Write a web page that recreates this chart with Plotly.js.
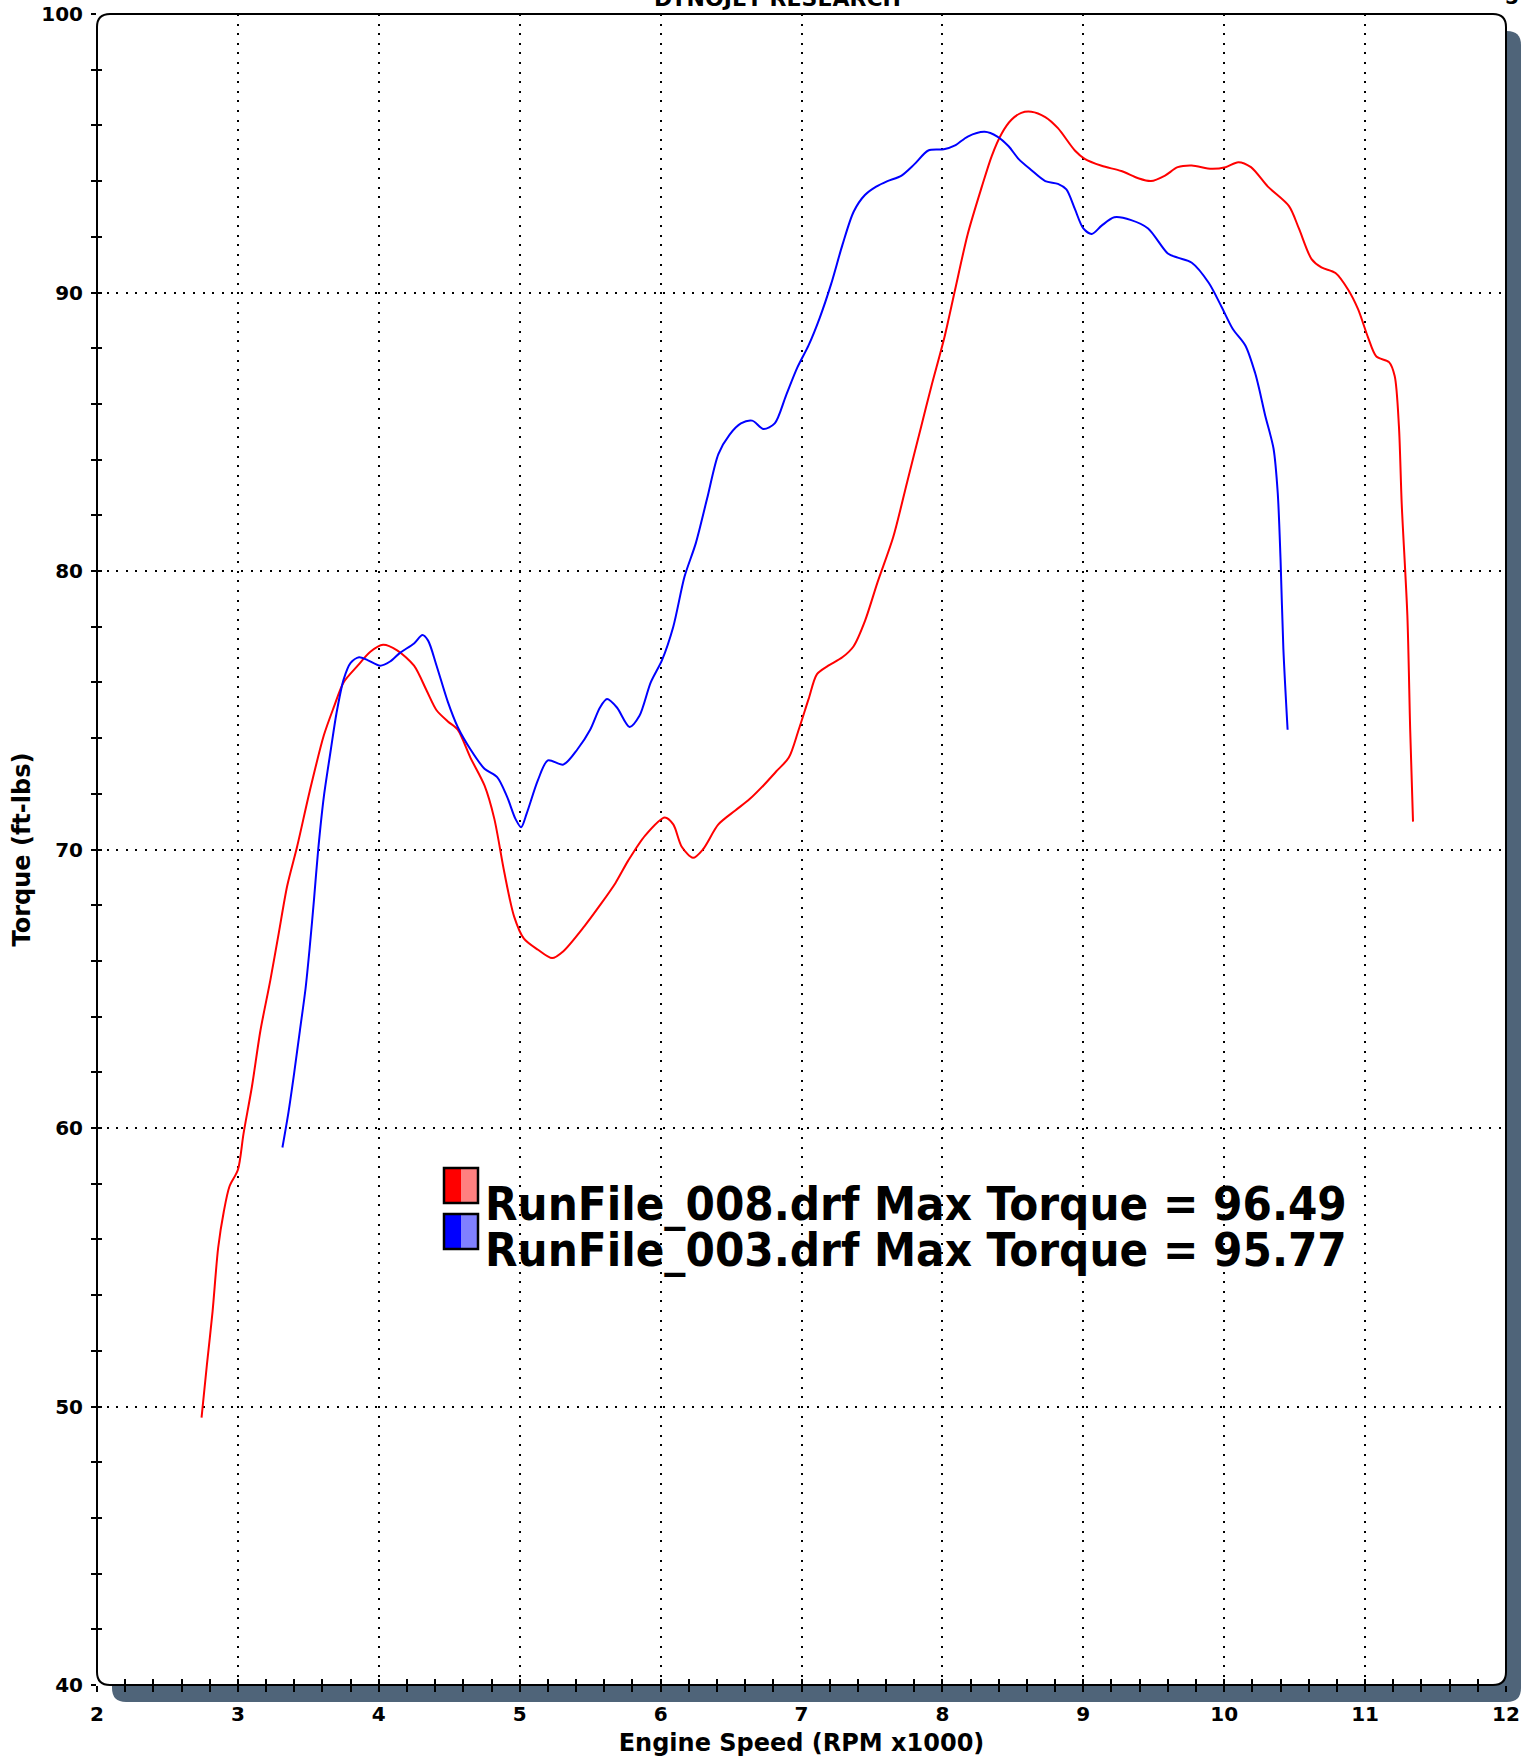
<!DOCTYPE html>
<html>
<head>
<meta charset="utf-8">
<script src="https://cdn.plot.ly/plotly-3.0.1.min.js"></script>
<style>html,body{margin:0;padding:0;background:#fff;}#chart{width:1534px;height:1760px;}</style>
</head>
<body>
<div id="chart"></div>
<script>
// ---- data ----
const redRpm = [2.742,2.78,2.82,2.86,2.90,2.94,3.00,3.04,3.10,3.16,3.23,3.29,3.35,3.42,3.51,3.61,3.68,3.75,3.85,3.94,4.03,4.13,4.25,4.34,4.41,4.49,4.56,4.65,4.75,4.82,4.89,4.96,5.03,5.13,5.23,5.31,5.46,5.57,5.68,5.77,5.89,6.03,6.09,6.15,6.23,6.30,6.41,6.53,6.63,6.73,6.82,6.91,6.98,7.05,7.11,7.19,7.29,7.37,7.45,7.54,7.65,7.75,7.85,7.92,8.015,8.09,8.18,8.28,8.35,8.42,8.49,8.56,8.63,8.73,8.82,8.94,9.01,9.13,9.27,9.39,9.48,9.58,9.67,9.77,9.91,10.01,10.10,10.19,10.31,10.46,10.53,10.62,10.69,10.79,10.88,10.95,11.02,11.08,11.17,11.21,11.24,11.26,11.30,11.32,11.34];
const redTorque = [49.6,51.5,53.4,55.7,57.0,57.9,58.5,59.8,61.5,63.5,65.3,67.0,68.7,70.1,72.1,74.1,75.1,76.0,76.6,77.1,77.35,77.15,76.6,75.7,75.0,74.6,74.3,73.3,72.3,71.1,69.2,67.6,66.8,66.4,66.1,66.35,67.25,68.0,68.8,69.6,70.5,71.15,70.9,70.1,69.7,70.0,70.9,71.4,71.8,72.3,72.8,73.3,74.3,75.4,76.3,76.6,76.9,77.3,78.2,79.6,81.2,83.2,85.2,86.6,88.4,90.1,92.1,93.8,94.9,95.7,96.2,96.45,96.49,96.3,95.9,95.1,94.8,94.55,94.36,94.1,94.0,94.2,94.5,94.56,94.44,94.5,94.68,94.5,93.8,93.1,92.3,91.2,90.9,90.7,90.1,89.4,88.4,87.7,87.5,87.0,85.2,82.4,78.4,74.3,71.0];

const blueRpm = [3.316,3.36,3.40,3.44,3.48,3.51,3.54,3.57,3.61,3.66,3.70,3.75,3.80,3.86,3.92,4.01,4.08,4.15,4.25,4.31,4.35,4.41,4.49,4.56,4.65,4.75,4.84,4.91,4.97,5.01,5.05,5.13,5.20,5.31,5.41,5.50,5.57,5.62,5.69,5.78,5.85,5.93,6.01,6.09,6.17,6.25,6.33,6.41,6.49,6.57,6.65,6.73,6.81,6.89,6.97,7.05,7.13,7.21,7.29,7.37,7.45,7.53,7.61,7.71,7.80,7.90,8.01,8.09,8.18,8.30,8.39,8.47,8.54,8.63,8.73,8.82,8.88,8.94,9.00,9.06,9.13,9.22,9.34,9.46,9.60,9.67,9.77,9.89,9.98,10.06,10.15,10.22,10.25,10.29,10.35,10.38,10.40,10.42,10.45];
const blueTorque = [59.3,60.6,62.0,63.5,65.0,66.5,68.2,70.0,71.9,73.6,74.9,76.1,76.7,76.9,76.8,76.6,76.75,77.06,77.4,77.7,77.5,76.6,75.3,74.4,73.6,72.9,72.6,71.9,71.1,70.8,71.3,72.5,73.2,73.05,73.6,74.3,75.1,75.4,75.1,74.4,74.8,76.0,76.8,78.0,79.8,81.0,82.6,84.2,84.9,85.3,85.4,85.1,85.3,86.3,87.3,88.1,89.1,90.3,91.7,92.9,93.5,93.8,94.0,94.2,94.6,95.1,95.14,95.28,95.6,95.77,95.6,95.25,94.8,94.4,94.0,93.9,93.7,93.0,92.3,92.1,92.4,92.7,92.6,92.3,91.4,91.25,91.07,90.35,89.5,88.7,88.1,87.1,86.5,85.6,84.4,82.8,80.4,77.2,74.3];

const legendLabels = ["RunFile_008.drf Max Torque = 96.49", "RunFile_003.drf Max Torque = 95.77"];
const seriesColors = ["#ff0000", "#0000ff"];
const seriesLight = ["#ff8080", "#8080ff"];
const chartTitle = "DYNOJET RESEARCH";
const xTitle = "Engine Speed (RPM x1000)";
const yTitle = "Torque (ft-lbs)";

// ---- geometry (pixels) ----
const W = 1534, H = 1760;
const L = 97, R = 1506, T = 14, B = 1685;
function px(x, y) { return [(x - L) / (R - L), (B - y) / (B - T)]; }
function f(x, y) { const p = px(x, y); return p[0].toFixed(5) + ',' + p[1].toFixed(5); }
function rrect(x0, y0, x1, y1, r) {
  return 'M' + f(x0 + r, y0) + ' L' + f(x1 - r, y0) + ' Q' + f(x1, y0) + ' ' + f(x1, y0 + r) +
    ' L' + f(x1, y1 - r) + ' Q' + f(x1, y1) + ' ' + f(x1 - r, y1) +
    ' L' + f(x0 + r, y1) + ' Q' + f(x0, y1) + ' ' + f(x0, y1 - r) +
    ' L' + f(x0, y0 + r) + ' Q' + f(x0, y0) + ' ' + f(x0 + r, y0) + ' Z';
}

const shapes = [
  { type: 'path', xref: 'paper', yref: 'paper', layer: 'below', path: rrect(L + 15, T + 17, R + 15, B + 17, 14), fillcolor: '#4f6479', line: { width: 0 } },
  { type: 'path', xref: 'paper', yref: 'paper', layer: 'below', path: rrect(L, T, R, B, 13), fillcolor: '#ffffff', line: { color: '#000', width: 2 } }
];
const annotations = [];
const boxX = 444, boxW = 34, boxH = 35, boxY0 = [1168, 1214];
const textX = 484, textY = [1203, 1249];
for (let i = 0; i < 2; i++) {
  const a = px(boxX, boxY0[i] + boxH), b = px(boxX + boxW / 2, boxY0[i]), c = px(boxX + boxW, boxY0[i]);
  shapes.push({ type: 'rect', xref: 'paper', yref: 'paper', x0: a[0], y0: a[1], x1: b[0], y1: b[1], fillcolor: seriesColors[i], line: { width: 0 } });
  shapes.push({ type: 'rect', xref: 'paper', yref: 'paper', x0: b[0], y0: a[1], x1: c[0], y1: c[1], fillcolor: seriesLight[i], line: { width: 0 } });
  shapes.push({ type: 'rect', xref: 'paper', yref: 'paper', x0: a[0], y0: a[1], x1: c[0], y1: c[1], fillcolor: 'rgba(0,0,0,0)', line: { color: '#000', width: 2.5 } });
  const t = px(textX, textY[i]);
  annotations.push({ xref: 'paper', yref: 'paper', x: t[0], y: t[1], xanchor: 'left', yanchor: 'middle', showarrow: false, borderpad: 0,
    text: legendLabels[i], font: { family: 'DejaVu Sans Condensed, DejaVu Sans', size: 47, color: '#000', weight: 'bold' } });
}
const tp = px(777, -2);
annotations.push({ xref: 'paper', yref: 'paper', x: tp[0], y: tp[1], xanchor: 'center', yanchor: 'middle', showarrow: false,
  text: chartTitle, font: { family: 'DejaVu Sans', size: 22, color: '#000', weight: 'bold' } });
const tp2 = px(1512, -3);
annotations.push({ xref: 'paper', yref: 'paper', x: tp2[0], y: tp2[1], xanchor: 'center', yanchor: 'middle', showarrow: false,
  text: '5', font: { family: 'DejaVu Sans', size: 20, color: '#000', weight: 'bold' } });

const tickFont = { family: 'DejaVu Sans', size: 20, color: '#000', weight: 'bold' };
const titleFont = { family: 'DejaVu Sans', size: 24, color: '#000', weight: 'bold' };

const traces = [
  { x: redRpm, y: redTorque, type: 'scatter', mode: 'lines', line: { color: seriesColors[0], width: 2, shape: 'spline', smoothing: 0.8 }, hoverinfo: 'skip' },
  { x: blueRpm, y: blueTorque, type: 'scatter', mode: 'lines', line: { color: seriesColors[1], width: 2, shape: 'spline', smoothing: 0.8 }, hoverinfo: 'skip' },
  { x: [], y: [], xaxis: 'x2', yaxis: 'y2', type: 'scatter', mode: 'lines', hoverinfo: 'skip' }
];

const layout = {
  width: W, height: H,
  margin: { l: L, r: W - R, t: T, b: H - B },
  paper_bgcolor: '#fff', plot_bgcolor: '#fff',
  showlegend: false,
  xaxis: {
    range: [2, 12], tick0: 2, dtick: 1, showgrid: true, gridcolor: '#000', gridwidth: 2, griddash: '2px,7.6px',
    zeroline: false, showline: false, ticks: 'outside', ticklen: 6, tickwidth: 2, tickcolor: '#000',
    minor: { dtick: 0.2, ticks: 'outside', ticklen: 6, tickwidth: 2, tickcolor: '#000', showgrid: false },
    tickfont: tickFont, ticklabelstandoff: 5,
    title: { text: xTitle, font: titleFont, standoff: 9 }
  },
  yaxis: {
    range: [40, 100], tick0: 40, dtick: 10, showgrid: true, gridcolor: '#000', gridwidth: 2, griddash: '2px,7.6px',
    zeroline: false, showline: false, ticks: 'outside', ticklen: 5, tickwidth: 2, tickcolor: '#000',
    minor: { dtick: 2, ticks: 'outside', ticklen: 5, tickwidth: 2, tickcolor: '#000', showgrid: false },
    tickfont: tickFont, ticklabelstandoff: 4,
    title: { text: yTitle, font: titleFont, standoff: 3 }
  },
  xaxis2: { overlaying: 'x', anchor: 'y2', range: [2, 12], dtick: 0.2, tick0: 2, ticks: 'inside', ticklen: 6, tickwidth: 2, tickcolor: '#000',
    showticklabels: false, showgrid: false, zeroline: false, showline: false },
  yaxis2: { overlaying: 'y', anchor: 'x2', range: [40, 100], dtick: 2, tick0: 40, ticks: 'inside', ticklen: 5, tickwidth: 2, tickcolor: '#000',
    showticklabels: false, showgrid: false, zeroline: false, showline: false },
  shapes: shapes,
  annotations: annotations
};

Plotly.newPlot('chart', traces, layout, { staticPlot: true, displayModeBar: false });
</script>
</body>
</html>
